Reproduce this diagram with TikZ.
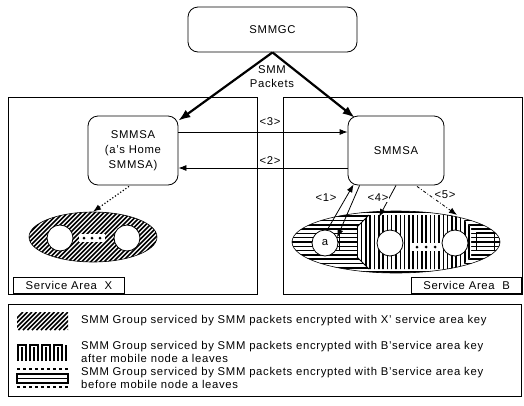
\documentclass[tikz,border=0pt]{standalone}
\usepackage{fontspec}
\setmainfont{Liberation Sans}[LetterSpace=6]
\usetikzlibrary{arrows.meta,calc,shapes.geometric}
\tikzset{
  txt/.style={font=\fontsize{11.3}{13}\selectfont, inner sep=1pt},
  sbox/.style={draw, line width=0.8pt, rounded corners=10pt, align=center, txt},
  frame/.style={draw, line width=0.8pt, anchor=north west, inner sep=0pt},
  tagbox/.style={draw, line width=0.8pt, txt, inner sep=0pt},
  circ/.style={circle, draw, line width=0.8pt, fill=white, minimum size=26pt, inner sep=0pt, txt},
  arr/.style={line width=0.8pt, -{Latex[length=8pt,width=6pt]}},
  bigarr/.style={line width=2.2pt, -{Latex[length=12pt,width=9pt]}},
  lab/.style={txt, inner sep=0.5pt},
  legtxt/.style={txt, anchor=west, align=left},
}
\begin{document}
\begin{tikzpicture}[x=1pt,y=-1pt]
\useasboundingbox (0,0) rectangle (524,405);

% service area frames
\node[frame, minimum width=249pt, minimum height=197pt] (fx) at (8,97) {};
\node[frame, minimum width=239pt, minimum height=197pt] (fb) at (283,97) {};
\node[tagbox, anchor=north west, minimum width=111pt, minimum height=16pt] (sx) at (13,277) {Service Area\ \ X};
\node[tagbox, anchor=north east, minimum width=110pt, minimum height=16pt] (sb) at (522,277) {Service Area\ \ B};

% controllers
\node[sbox, minimum width=169pt, minimum height=45pt] (gc) at (272.5,29.5) {SMMGC};
\node[sbox, minimum width=90pt, minimum height=69pt] (lsa) at (133,150.5) {SMMSA\\[2pt](a's Home\\[2pt]SMMSA)};
\node[sbox, minimum width=96pt, minimum height=69pt] (rsa) at (396,150.5) {SMMSA};

% SMM packets arrows
\node[lab, align=center] (pk) at (272,77) {SMM\\[1pt]Packets};
\draw[bigarr] (gc.south) -- ($(lsa.north east)+(0,5)$);
\draw[bigarr] (gc.south) -- ($(rsa.north west)+(7,2)$);

% <3> and <2>
\draw[arr] (lsa.east |- 0,132) -- (rsa.west |- 0,132);
\draw[arr] (rsa.west |- 0,168) -- (lsa.east |- 0,168);
\node[lab] (l3) at (270,122) {<3>};
\node[lab] (l2) at (270,161) {<2>};

% left group (service area X)
\node[ellipse, draw, line width=0.6pt, minimum width=128pt, minimum height=50pt, inner sep=0pt,
  path picture={\foreach \k in {-30,...,30}{\draw[line width=1.5pt] ($(path picture bounding box.center)+(\k*4.5pt-70pt,-70pt)$) -- ++(140pt,140pt);}}] (ex) at (93,237) {};
\node[circ] (x1) at (60,238) {};
\node[circ] (x2) at (127,238) {};
\fill[white] (79,234) rectangle (105,242);
\foreach \xx in {84,92,100} \fill (\xx,238) circle (1.5pt);
\draw[dotted, line width=1.2pt, -{Latex[length=8pt,width=6pt]}] ($(lsa.south)+(-4,1)$) -- (ex.north);

% right group (service area B)
\node[ellipse, draw, line width=0.6pt, minimum width=208pt, minimum height=62pt, inner sep=0pt,
  path picture={
    \foreach \k in {-8,...,8}{\draw[line width=1.5pt] ($(path picture bounding box.center)+(-110pt,\k*4.3pt)$) -- ++(220pt,0pt);}
    \begin{scope}
      \clip ($(path picture bounding box.center)+(-39pt,15pt)$) -- ++(12pt,12pt) -- ++(90pt,0pt) -- ++(12pt,-12pt) -- ++(0pt,-30pt) -- ++(-12pt,-12pt) -- ++(-90pt,0pt) -- ++(-12pt,12pt) -- cycle;
      \fill[white] ($(path picture bounding box.center)+(-60pt,-40pt)$) rectangle ++(150pt,80pt);
      \foreach \k in {-9,...,18}{\draw[line width=1.5pt] ($(path picture bounding box.center)+(\k*4.3pt,-40pt)$) -- ++(0pt,80pt);}
    \end{scope}
    \draw[line width=0.8pt] ($(path picture bounding box.center)+(-39pt,15pt)$) -- ++(12pt,12pt);
    \draw[line width=0.8pt] ($(path picture bounding box.center)+(-39pt,-15pt)$) -- ++(12pt,-12pt);
  }] (eb) at (396,242) {};
\draw[line width=0.8pt] (339,233) rectangle (357,250);
\draw[line width=0.8pt] (476,232) rectangle (494,250);
\node[circ] (a) at (325,243) {a};
\node[circ] (b1) at (390,243) {};
\node[circ] (b2) at (455,243) {};
\fill[white] (412,243) rectangle (440,251);
\foreach \xx in {417,426,435} \fill (\xx,247) circle (1.5pt);

% <1>, <4>, <5>
\draw[arr] (a.80) -- ($(rsa.south west)+(6,-1)$);
\draw[arr] ($(rsa.south west)+(12,0)$) -- (a.25);
\draw[arr] (rsa.south) -- (379,217);
\draw[arr, dash dot] ($(rsa.south)+(21,1)$) -- (457,215);
\node[lab, fill=white] (l1) at (326,198) {<1>};
\node[lab, fill=white] (l4) at (378,198) {<4>};
\node[lab, fill=white] (l5) at (445,195) {<5>};

% legend
\node[frame, minimum width=513pt, minimum height=92pt] (leg) at (8,304) {};
\begin{scope}
  \clip (17,312) rectangle (68,330);
  \foreach \k in {0,...,16} \draw[line width=1.5pt] (\k*4.5+5,330) -- ++(18,-18);
\end{scope}
\foreach \xa in {18,30,42,54} {
  \draw[line width=1.6pt] (\xa,361) -- (\xa,345) -- (\xa+8,345) -- (\xa+8,361);
  \draw[line width=1.4pt] (\xa+4,347) -- (\xa+4,361);
}
\draw[line width=1.6pt] (66,345) -- (66,361);
\draw[line width=1.2pt, dashed] (17,369) -- (68,369);
\draw[line width=1.2pt] (17,374) rectangle (68,383);
\draw[line width=1.0pt] (17,378.5) -- (68,378.5);
\draw[line width=1.2pt, dashed] (17,387) -- (68,387);
\node[legtxt] (t1) at (80,321) {SMM Group serviced by SMM packets encrypted with X' service area key};
\node[legtxt] (t2) at (80,351.5) {SMM Group serviced by SMM packets encrypted with B'service area key\\after mobile node a leaves};
\node[legtxt] (t3) at (80,378) {SMM Group serviced by SMM packets encrypted with B'service area key\\before mobile node a leaves};
\end{tikzpicture}
\end{document}
